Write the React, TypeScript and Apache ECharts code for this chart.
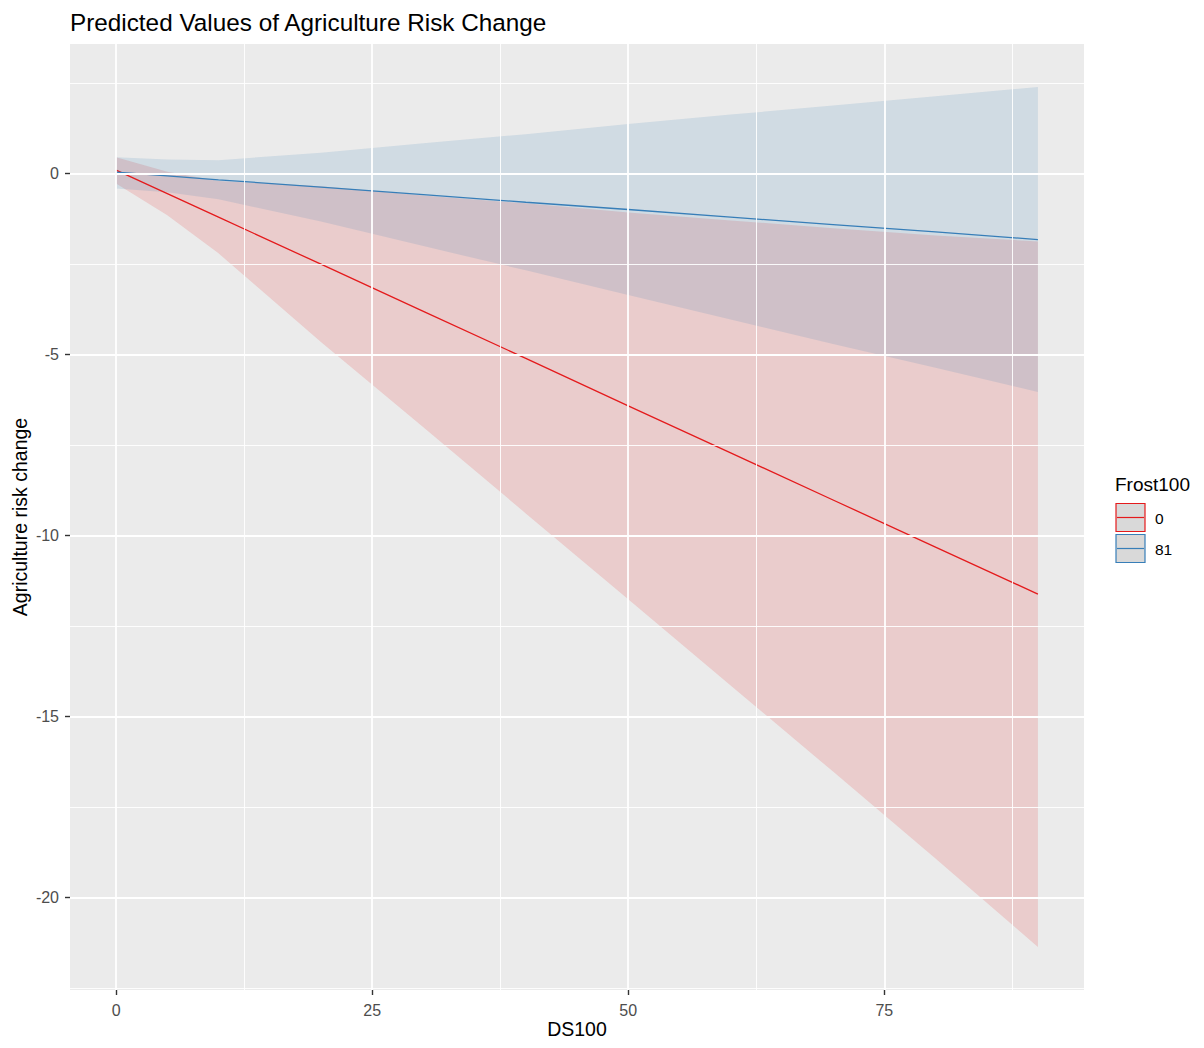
import React, { useEffect, useRef } from "react";
import * as echarts from "echarts";

// DS100 values at which predictions were read
const dsValues = [0, 5, 10, 20, 30, 40, 50, 60, 70, 80, 90];

// Frost100 = 0 (red)
const redPred = [0.09, -0.56, -1.21, -2.51, -3.81, -5.11, -6.42, -7.72, -9.02, -10.32, -11.62];
const redLower = [-0.28, -1.16, -2.21, -4.66, -7.01, -9.39, -11.76, -14.14, -16.52, -18.92, -21.36];
const redUpper = [0.44, 0.04, -0.21, -0.36, -0.61, -0.83, -1.08, -1.3, -1.52, -1.72, -1.88];

// Frost100 = 81 (blue)
const bluePred = [0.03, -0.07, -0.18, -0.38, -0.59, -0.8, -1.0, -1.21, -1.42, -1.62, -1.83];
const blueLower = [-0.42, -0.52, -0.72, -1.33, -2.01, -2.68, -3.36, -4.04, -4.71, -5.37, -6.04];
const blueUpper = [0.44, 0.38, 0.36, 0.57, 0.83, 1.08, 1.36, 1.62, 1.87, 2.13, 2.38];

const xTicks = [0, 25, 50, 75];
const xMinor = [12.5, 37.5, 62.5, 87.5];
const yTicks = [-20, -15, -10, -5, 0];
const yMinor = [-22.5, -17.5, -12.5, -7.5, -2.5, 2.5];

const legendTitle = "Frost100";
const legendLabels = ["0", "81"];
const RED = "#E41A1C";
const BLUE = "#377EB8";

const FONT = "Liberation Sans, Arial, sans-serif";

function bandSeries(name: string, lower: number[], upper: number[], fill: string) {
  return {
    type: "custom",
    name,
    z: 2,
    silent: true,
    clip: true,
    data: dsValues.map((x, i) => [x, lower[i], upper[i]]),
    renderItem: (params: any, api: any) => {
      if (params.dataIndex !== 0) return null;
      const pts: number[][] = [];
      for (let i = 0; i < dsValues.length; i++) pts.push(api.coord([dsValues[i], upper[i]]));
      for (let i = dsValues.length - 1; i >= 0; i--) pts.push(api.coord([dsValues[i], lower[i]]));
      return { type: "polygon", shape: { points: pts }, style: { fill, stroke: "none" } };
    },
  };
}

export default function App() {
  const ref = useRef<HTMLDivElement>(null);
  useEffect(() => {
    if (!ref.current) return;
    const chart = echarts.init(ref.current, undefined, { renderer: "svg" });
    const legendX = 1116;
    const option: any = {
      animation: false,
      backgroundColor: "#FFFFFF",
      textStyle: { fontFamily: FONT },
      title: {
        text: "Predicted Values of Agriculture Risk Change",
        left: 70,
        top: 10,
        padding: 0,
        textStyle: { fontFamily: FONT, fontSize: 24.3, fontWeight: "normal", color: "#000000" },
      },
      grid: {
        left: 70,
        right: 120,
        top: 44,
        bottom: 58,
        show: true,
        backgroundColor: "#EBEBEB",
        borderWidth: 0,
        containLabel: false,
        outerBoundsMode: "none",
      },
      xAxis: {
        type: "value",
        min: -4.5,
        max: 94.5,
        name: "DS100",
        nameLocation: "middle",
        nameGap: 29,
        nameMoveOverlap: false,
        nameTextStyle: { fontSize: 19.5, color: "#000000", fontFamily: FONT },
        axisLine: { show: false, onZero: false },
        splitLine: { show: false },
        axisTick: { show: true, customValues: xTicks, length: 5, lineStyle: { color: "#333333", width: 1.4 } },
        axisLabel: { customValues: xTicks, color: "#4D4D4D", fontSize: 16, margin: 12, fontFamily: FONT },
      },
      yAxis: {
        type: "value",
        min: -22.55,
        max: 3.57,
        name: "Agriculture risk change",
        nameLocation: "middle",
        nameGap: 40,
        nameMoveOverlap: false,
        nameTextStyle: { fontSize: 19.5, color: "#000000", fontFamily: FONT },
        axisLine: { show: false, onZero: false },
        splitLine: { show: false },
        axisTick: { show: true, customValues: yTicks, length: 5, lineStyle: { color: "#333333", width: 1.4 } },
        axisLabel: { customValues: yTicks, color: "#4D4D4D", fontSize: 16, margin: 11, fontFamily: FONT },
      },
      graphic: [
        {
          type: "text",
          x: legendX - 1,
          y: 484,
          style: { text: legendTitle, fontSize: 19, fill: "#000000", fontFamily: FONT, verticalAlign: "middle" },
        },
        ...[RED, BLUE].flatMap((c, i) => {
          const y0 = 503.5 + i * 31;
          return [
            { type: "rect", shape: { x: legendX, y: y0, width: 29, height: 28 }, style: { fill: "#D9D9D9", stroke: c, lineWidth: 1.2 } },
            { type: "line", shape: { x1: legendX + 1, y1: y0 + 14, x2: legendX + 28, y2: y0 + 14 }, style: { stroke: c, lineWidth: 1.2 } },
            { type: "text", x: 1155, y: y0 + 15, style: { text: legendLabels[i], fontSize: 15.5, fill: "#000000", fontFamily: FONT, verticalAlign: "middle" } },
          ];
        }),
      ],
      series: [
        {
          type: "line",
          name: "grid",
          z: 1,
          silent: true,
          data: [[0, 0]],
          showSymbol: false,
          lineStyle: { opacity: 0 },
          markLine: {
            silent: true,
            symbol: "none",
            label: { show: false },
            animation: false,
            data: [
              ...xTicks.map((v) => ({ xAxis: v, lineStyle: { color: "#FFFFFF", width: 1.8, type: "solid" } })),
              ...xMinor.map((v) => ({ xAxis: v, lineStyle: { color: "#FFFFFF", width: 0.9, type: "solid" } })),
              ...yTicks.map((v) => ({ yAxis: v, lineStyle: { color: "#FFFFFF", width: 1.8, type: "solid" } })),
              ...yMinor.map((v) => ({ yAxis: v, lineStyle: { color: "#FFFFFF", width: 0.9, type: "solid" } })),
            ],
          },
        },
        bandSeries("band0", redLower, redUpper, "rgba(228,26,28,0.15)"),
        bandSeries("band81", blueLower, blueUpper, "rgba(55,126,184,0.15)"),
        {
          type: "line",
          name: "0",
          z: 3,
          data: dsValues.map((x, i) => [x, redPred[i]]),
          showSymbol: false,
          lineStyle: { color: RED, width: 1.3 },
        },
        {
          type: "line",
          name: "81",
          z: 3,
          data: dsValues.map((x, i) => [x, bluePred[i]]),
          showSymbol: false,
          lineStyle: { color: BLUE, width: 1.3 },
        },
      ],
    };
    chart.setOption(option);
    return () => chart.dispose();
  }, []);
  return (
    <div
      ref={ref}
      style={{ position: "fixed", left: 0, top: 0, width: 1204, height: 1048 }}
    />
  );
}
